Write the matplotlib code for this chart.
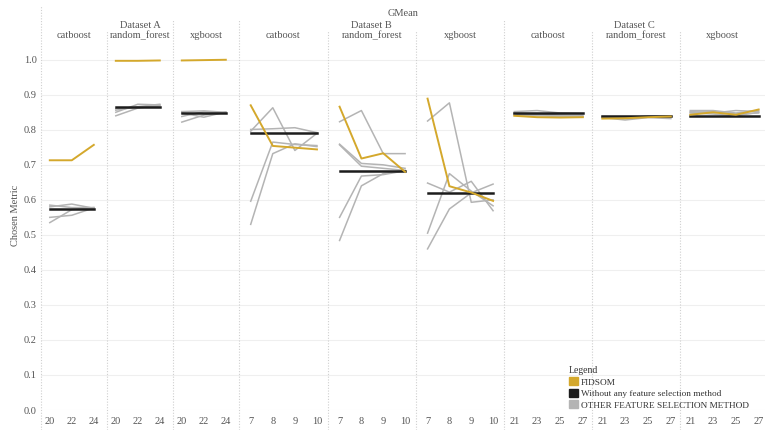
import matplotlib.pyplot as plt
from matplotlib.lines import Line2D
from matplotlib.patches import Patch

plt.rcParams['font.family'] = ['Liberation Serif', 'DejaVu Serif']

# x values per dataset
x_A = [20, 22, 24]
x_B = [7, 8, 9, 10]
x_C = [21, 23, 25, 27]

models = ['catboost', 'random_forest', 'xgboost']
datasets = ['Dataset A', 'Dataset B', 'Dataset C']

# FIDSOM per model (catboost, random_forest, xgboost)
fidsom_A = [[0.713, 0.713, 0.757], [0.997, 0.997, 0.998], [0.998, 0.999, 1.0]]
fidsom_B = [[0.870, 0.754, 0.749, 0.744], [0.866, 0.718, 0.733, 0.680], [0.889, 0.639, 0.621, 0.597]]
fidsom_C = [[0.840, 0.836, 0.835, 0.836], [0.832, 0.833, 0.836, 0.838], [0.843, 0.850, 0.843, 0.858]]

# without any feature selection (constant)
base_A = [0.575, 0.864, 0.849]
base_B = [0.792, 0.681, 0.620]
base_C = [0.848, 0.840, 0.840]

# other feature selection methods
other_A = [
    [[0.535, 0.572, 0.578], [0.550, 0.556, 0.577], [0.585, 0.578, 0.578], [0.580, 0.588, 0.576]],
    [[0.840, 0.862, 0.870], [0.850, 0.873, 0.871], [0.856, 0.866, 0.873], [0.860, 0.864, 0.868]],
    [[0.822, 0.842, 0.850], [0.838, 0.852, 0.849], [0.848, 0.836, 0.851], [0.852, 0.854, 0.850]],
]
other_B = [
    [[0.796, 0.863, 0.741, 0.790], [0.801, 0.803, 0.806, 0.792], [0.596, 0.765, 0.758, 0.755], [0.530, 0.732, 0.760, 0.752]],
    [[0.823, 0.855, 0.732, 0.732], [0.759, 0.704, 0.700, 0.690], [0.757, 0.696, 0.690, 0.684], [0.550, 0.668, 0.672, 0.683], [0.484, 0.640, 0.675, 0.684]],
    [[0.825, 0.877, 0.593, 0.600], [0.648, 0.622, 0.653, 0.569], [0.505, 0.675, 0.625, 0.583], [0.460, 0.574, 0.620, 0.645]],
]
other_C = [
    [[0.852, 0.855, 0.848, 0.846], [0.845, 0.843, 0.840, 0.838], [0.848, 0.845, 0.842, 0.840], [0.842, 0.840, 0.838, 0.838]],
    [[0.835, 0.828, 0.835, 0.832], [0.838, 0.836, 0.838, 0.840], [0.836, 0.832, 0.840, 0.835]],
    [[0.855, 0.855, 0.848, 0.855], [0.852, 0.848, 0.855, 0.852], [0.848, 0.845, 0.840, 0.850], [0.850, 0.852, 0.845, 0.848]],
]

GOLD = '#d4a82c'
BLACK = '#1c1c1c'
GRAY = '#b4b4b4'
TXT = '#555555'

W, H = 765, 430
fig = plt.figure(figsize=(W / 100, H / 100), dpi=100)

edges = [41, 107, 173, 239, 328, 416, 504, 592, 680, 765]
top_px, bot_px = 44, 410
xlims = {0: (19.2, 25.2), 1: (6.47, 10.5), 2: (20.1, 27.8)}

all_x = [x_A, x_B, x_C]
all_f = [fidsom_A, fidsom_B, fidsom_C]
all_b = [base_A, base_B, base_C]
all_o = [other_A, other_B, other_C]

for d in range(3):
    for m in range(3):
        k = d * 3 + m
        l, r = edges[k], edges[k + 1]
        ax = fig.add_axes([l / W, 1 - bot_px / H, (r - l) / W, (bot_px - top_px) / H])
        xs = all_x[d]
        for s in all_o[d][m]:
            ax.plot(xs, s, color=GRAY, lw=1.1)
        ax.plot(xs, [all_b[d][m]] * len(xs), color=BLACK, lw=1.8)
        ax.plot(xs, all_f[d][m], color=GOLD, lw=1.4)
        lo, hi = xlims[d]
        if k == 8:
            hi = lo + (r - l) / 11.4
        ax.set_xlim(lo, hi)
        ax.set_ylim(0, 1.045)
        ax.set_xticks(xs)
        ax.set_yticks([i / 10 for i in range(11)])
        ax.grid(axis='y', color='#efefef', lw=0.8)
        ax.set_axisbelow(True)
        for sp in ax.spines.values():
            sp.set_visible(False)
        ax.tick_params(length=0, labelsize=7.5, labelcolor=TXT, pad=5)
        if k == 0:
            ax.set_yticklabels(['%.1f' % (i / 10) for i in range(11)])
            ax.tick_params(axis='y', pad=3)
        else:
            ax.set_yticklabels([])
        ax.patch.set_alpha(0)
        fig.text((l + r) / 2 / W, 1 - 36 / H, models[m], ha='center', va='center',
                 fontsize=7.5, color=TXT)
    l, r = edges[d * 3], edges[d * 3 + 3]
    fig.text((l + r) / 2 / W, 1 - 25 / H, datasets[d], ha='center', va='center',
             fontsize=7.5, color=TXT)

fig.text((edges[0] + edges[-1]) / 2 / W, 1 - 14 / H, 'GMean', ha='center', va='center',
         fontsize=7.5, color=TXT)
fig.text(15 / W, 1 - 215 / H, 'Chosen Metric', rotation=90, ha='center', va='center',
         fontsize=7.5, color=TXT)

# panel separators
starts = [5, 31, 20, 20, 31, 31, 20, 31, 31]
for xp, st in zip(edges[:-1], starts):
    fig.add_artist(Line2D([xp / W, xp / W], [0, 1 - st / H], color='#cfcfcf', lw=0.8,
                          ls=(0, (1, 1.5))))

handles = [Patch(color=GOLD), Patch(color=BLACK), Patch(color=GRAY)]
labels = ['FIDSOM', 'Without any feature selection method', 'OTHER FEATURE SELECTION METHOD']
leg = fig.legend(handles, labels, title='Legend', loc='upper left',
                 bbox_to_anchor=(569 / W, 1 - 366 / H), frameon=False, fontsize=6.7,
                 title_fontsize=7, handlelength=0.95, handleheight=0.95, handletextpad=0.35,
                 labelspacing=0.25, borderpad=0, borderaxespad=0)
leg._legend_box.align = 'left'
leg.get_title().set_color('#333333')
for t in leg.get_texts():
    t.set_color('#333333')

fig.savefig('out.png', dpi=100)
